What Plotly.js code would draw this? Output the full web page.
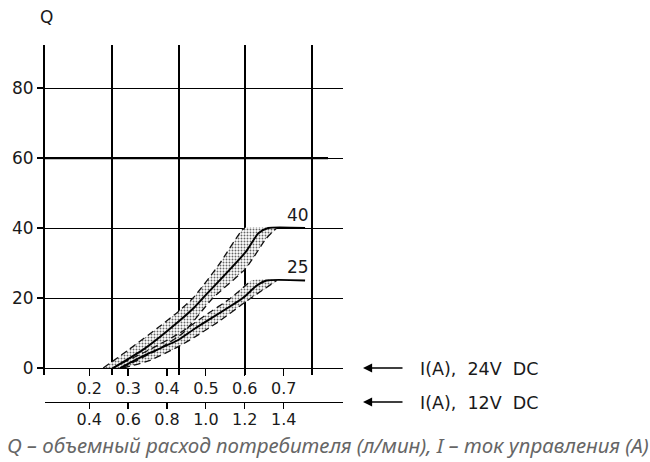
<!DOCTYPE html>
<html><head><meta charset="utf-8">
<script src="https://cdn.plot.ly/plotly-3.0.1.min.js"></script>
<style>html,body{margin:0;padding:0;background:#fff}#chart{width:650px;height:462px}</style>
</head><body><div id="chart"></div>
<script>
// ---- tick labels ----
const ticks24V = [0.2, 0.3, 0.4, 0.5, 0.6, 0.7];            // I (A), 24V DC
const tickLabels24V = ['0.2', '0.3', '0.4', '0.5', '0.6', '0.7'];
const ticks12V = [0.4, 0.6, 0.8, 1.0, 1.2, 1.4];            // I (A), 12V DC
const tickLabels12V = ['0.4', '0.6', '0.8', '1.0', '1.2', '1.4'];
const qTicks = [0, 20, 40, 60, 80];                          // Q (l/min)
const curveNames = ['40', '25'];

// ---- 40 l/min band (x = I at 24V DC, y = Q) ----
const nominal40_I = [0.262, 0.3435, 0.429, 0.472, 0.4925, 0.602, 0.635, 0.66, 0.755];
const nominal40_Q = [0, 5.6, 13.2, 17.5, 20, 33.1, 38.5, 40, 40];
const upper40_I = [0.236, 0.300, 0.386, 0.429, 0.467, 0.532, 0.592, 0.600];
const upper40_Q = [0, 5.1, 12.3, 16.1, 20, 29.3, 39.3, 40];
const lower40_I = [0.284, 0.372, 0.441, 0.518, 0.602, 0.655, 0.682];
const lower40_Q = [0, 5, 10, 20, 28.4, 37, 40];

// ---- 25 l/min band ----
const nominal25_I = [0.279, 0.3435, 0.429, 0.472, 0.595, 0.63, 0.656, 0.755];
const nominal25_Q = [0, 3.7, 8, 11.3, 20, 23.5, 25, 25];
const upper25_I = [0.259, 0.351, 0.433, 0.498, 0.564, 0.617];
const upper25_Q = [0, 5, 10, 15, 20, 25];
const lower25_I = [0.287, 0.3565, 0.429, 0.472, 0.536, 0.602, 0.682];
const lower25_Q = [0, 2.2, 6.1, 8.9, 13.5, 18.9, 25];

// ---- layout helpers (positions only) ----
const xr = [0.0864, 0.8525];
const gridX = [0.2587, 0.4309, 0.6005, 0.7728];
const ML = 45, MT = 45, MB = 60, W = 650, H = 462;
const PW = 343 - ML, PH = H - MT - MB;
const px = v => (v - ML) / PW;
const py = v => (H - MB - v) / PH;

const pattern = {shape: '.', fgcolor: '#666', bgcolor: 'rgba(255,255,255,1)', size: 3, solidity: 0.32};
function band(upI, upQ, loI, loQ) {
  return {
    x: upI.concat(loI.slice().reverse()),
    y: upQ.concat(loQ.slice().reverse()),
    type: 'scatter', mode: 'lines', fill: 'toself', fillcolor: 'rgba(0,0,0,0)',
    fillpattern: pattern, line: {width: 0, shape: 'spline', smoothing: 0.6},
    hoverinfo: 'skip'
  };
}
const dashLine = (x, y) => ({x, y, type: 'scatter', mode: 'lines',
  line: {color: '#111', width: 1.3, dash: '7px,4px', shape: 'spline', smoothing: 0.6}});
const solidLine = (x, y) => ({x, y, type: 'scatter', mode: 'lines',
  line: {color: '#000', width: 1.9, shape: 'spline', smoothing: 0.6}});

const data = [
  band(upper40_I, upper40_Q, lower40_I, lower40_Q),
  band(upper25_I, upper25_Q, lower25_I, lower25_Q),
  dashLine(upper40_I, upper40_Q), dashLine(lower40_I, lower40_Q),
  dashLine(upper25_I, upper25_Q), dashLine(lower25_I, lower25_Q),
  solidLine(nominal40_I, nominal40_Q), solidLine(nominal25_I, nominal25_Q),
  {x: [], y: [], xaxis: 'x2', type: 'scatter'},
  {x: [], y: [], xaxis: 'x3', type: 'scatter'}
];

const tickFont = {family: 'DejaVu Sans', size: 16, color: '#1a1a1a'};
const labelFont = {family: 'DejaVu Sans', size: 17, color: '#1a1a1a'};
const NB = '\u00A0';
const ann = (x, y, text, extra) => Object.assign({xref: 'paper', yref: 'paper', x: px(x), y: py(y), text,
  showarrow: false, xanchor: 'center', yanchor: 'middle', font: labelFont}, extra || {});

const layout = {
  width: W, height: H,
  margin: {l: ML, r: W - 343, t: MT, b: MB, pad: 0},
  paper_bgcolor: '#fff', plot_bgcolor: '#fff',
  showlegend: false,
  font: {family: 'DejaVu Sans', color: '#1a1a1a'},
  xaxis: {range: xr, anchor: 'free', position: py(368), showline: true, linecolor: '#000', linewidth: 1.3,
    ticks: 'outside', ticklen: 7, tickwidth: 1.2, tickcolor: '#000', ticklabelstandoff: -2,
    tickvals: ticks24V, ticktext: tickLabels24V, tickfont: tickFont,
    showgrid: false, zeroline: false, fixedrange: true},
  xaxis2: {range: [2 * xr[0], 2 * xr[1]], overlaying: 'x', anchor: 'free', position: 0, side: 'bottom',
    showline: true, linecolor: '#000', linewidth: 1.3,
    ticks: 'outside', ticklen: 6, tickwidth: 1.2, tickcolor: '#000', ticklabelstandoff: -4,
    tickvals: ticks12V, ticktext: tickLabels12V, tickfont: tickFont,
    showgrid: false, zeroline: false, fixedrange: true},
  xaxis3: {range: xr, overlaying: 'x', anchor: 'y', side: 'bottom', showgrid: true, gridcolor: '#000', gridwidth: 1.1,
    tickvals: gridX, showticklabels: false, ticks: '', showline: false, zeroline: false, fixedrange: true},
  yaxis: {range: [-2, 92.3], domain: [py(375), 1], showline: true, linewidth: 2, linecolor: '#000',
    ticks: 'outside', ticklen: 6, tickwidth: 1.2, tickcolor: '#000',
    tickvals: qTicks, tickfont: labelFont, showgrid: true, gridcolor: '#000', gridwidth: 1,
    zeroline: false, fixedrange: true},
  shapes: [
    {type: 'line', xref: 'x', yref: 'y', x0: xr[0], x1: 0.814, y0: 60, y1: 60, line: {color: '#000', width: 2.2}}
  ],
  annotations: [
    ann(46, 17, 'Q'),
    {xref: 'x', yref: 'y', x: 0.7375, y: 43.6, text: curveNames[0], showarrow: false, xanchor: 'center', yanchor: 'middle', font: labelFont},
    {xref: 'x', yref: 'y', x: 0.7375, y: 28.9, text: curveNames[1], showarrow: false, xanchor: 'center', yanchor: 'middle', font: labelFont},
    {xref: 'paper', yref: 'paper', x: px(363), y: py(368), ax: 41, ay: 0, text: '', showarrow: true,
      arrowhead: 2, arrowsize: 1.4, arrowwidth: 1.3, arrowcolor: '#000'},
    {xref: 'paper', yref: 'paper', x: px(363), y: py(402), ax: 41, ay: 0, text: '', showarrow: true,
      arrowhead: 2, arrowsize: 1.4, arrowwidth: 1.3, arrowcolor: '#000'},
    ann(418, 369, 'I(A),' + NB + NB + '24V' + NB + NB + 'DC', {xanchor: 'left', font: {family: 'DejaVu Sans', size: 17.5, color: '#1a1a1a'}}),
    ann(418, 403, 'I(A),' + NB + NB + '12V' + NB + NB + 'DC', {xanchor: 'left', font: {family: 'DejaVu Sans', size: 17.5, color: '#1a1a1a'}}),
    ann(328, 445, 'Q – объемный расход потребителя (л/мин), I – ток управления (A)',
      {font: {family: 'Noto Sans', size: 20.5, style: 'italic', color: '#666'}})
  ]
};

Plotly.newPlot('chart', data, layout, {staticPlot: true, displayModeBar: false});
</script>
</body></html>
